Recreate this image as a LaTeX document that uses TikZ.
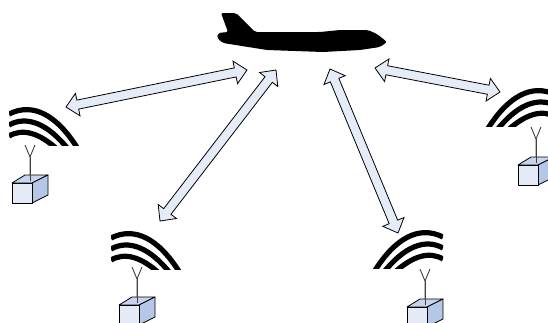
\documentclass[tikz,border=0pt]{standalone}
\usepackage{xcolor}
\usetikzlibrary{calc}
\definecolor{linkfill}{HTML}{E6ECF7}
\definecolor{boxfront}{HTML}{E4EAF6}
\definecolor{boxtop}{HTML}{C6D5EC}
\definecolor{boxside}{HTML}{B4C7E7}
\definecolor{mast}{HTML}{404040}
\newcommand{\linkarrow}[2]{%
  \draw[commlink] ($($(#1)!12pt!(#2)$)!4.6pt!90:(#2)$) -- ($($(#1)!12pt!(#2)$)!11.5pt!90:(#2)$) -- (#1)
    -- ($($(#1)!12pt!(#2)$)!11.5pt!-90:(#2)$) -- ($($(#1)!12pt!(#2)$)!4.6pt!-90:(#2)$)
    -- ($($(#2)!12pt!(#1)$)!4.6pt!90:(#1)$) -- ($($(#2)!12pt!(#1)$)!11.5pt!90:(#1)$) -- (#2)
    -- ($($(#2)!12pt!(#1)$)!11.5pt!-90:(#1)$) -- ($($(#2)!12pt!(#1)$)!4.6pt!-90:(#1)$) -- cycle;}
\tikzset{
  commlink/.style={draw=black,fill=linkfill,line width=.8pt,line join=miter},
  wave/.style={line width=5.2pt,black},
  boxface/.style={draw=black,line width=.8pt,line join=round},
  wavefront/.pic={
    \clip (0,-45) rectangle (72,0);
    \draw[wave] (0,-31) .. controls (24,-43) and (48,-30) .. (69,4);
    \draw[wave] (0,-20) .. controls (18,-30) and (39,-21) .. (59,4);
    \draw[wave] (0,-9) .. controls (14,-17) and (30,-12) .. (48,4);
  },
  terminal/.pic={
    \draw[mast,line width=.9pt] (-5,0) -- (0,12) -- (5,0) (0,12) -- (0,30);
    \draw[boxface,fill=boxtop] (-18,38) -- (-5,30) -- (18,30) -- (2,38) -- cycle;
    \draw[boxface,fill=boxside] (2,38) -- (18,30) -- (18,50) -- (2,58) -- cycle;
    \draw[boxface,fill=boxfront] (-18,38) rectangle (2,58);
    \draw[mast,line width=.9pt] (0,12) -- (0,36);
  }
}
\begin{document}
\begin{tikzpicture}[x=1pt,y=-1pt]
  \clip (0,0) rectangle (548,322);
  \fill[black,rounded corners=2pt] (221,13) -- (236,13) -- (255,32) -- (320,32) -- (340,30) -- (368,30)
    -- (377,34) -- (387,42) -- (380,47) -- (360,50) -- (323,52) -- (267,50) -- (223,43) -- (217,38)
    -- (218,33) -- (228,32) -- cycle;
  \coordinate (plane west) at (247,70);
  \coordinate (plane southwest) at (276,70);
  \coordinate (plane southeast) at (330,69);
  \coordinate (plane east) at (375,68);
  \coordinate (far west) at (66,107);
  \coordinate (near west) at (160,221);
  \coordinate (near east) at (398,233);
  \coordinate (far east) at (500,92);
  \linkarrow{far west}{plane west}
  \linkarrow{near west}{plane southwest}
  \linkarrow{near east}{plane southeast}
  \linkarrow{far east}{plane east}
  \pic (wave a) at (9,145) {wavefront};
  \pic (wave b) at (111,269) {wavefront};
  \pic[xscale=-1] (wave c) at (443,268) {wavefront};
  \pic[xscale=-1] (wave d) at (556,126) {wavefront};
  \pic (term a) at (30,145) {terminal};
  \pic (term b) at (137,267) {terminal};
  \pic (term c) at (425,269) {terminal};
  \pic (term d) at (536,127) {terminal};
\end{tikzpicture}
\end{document}
